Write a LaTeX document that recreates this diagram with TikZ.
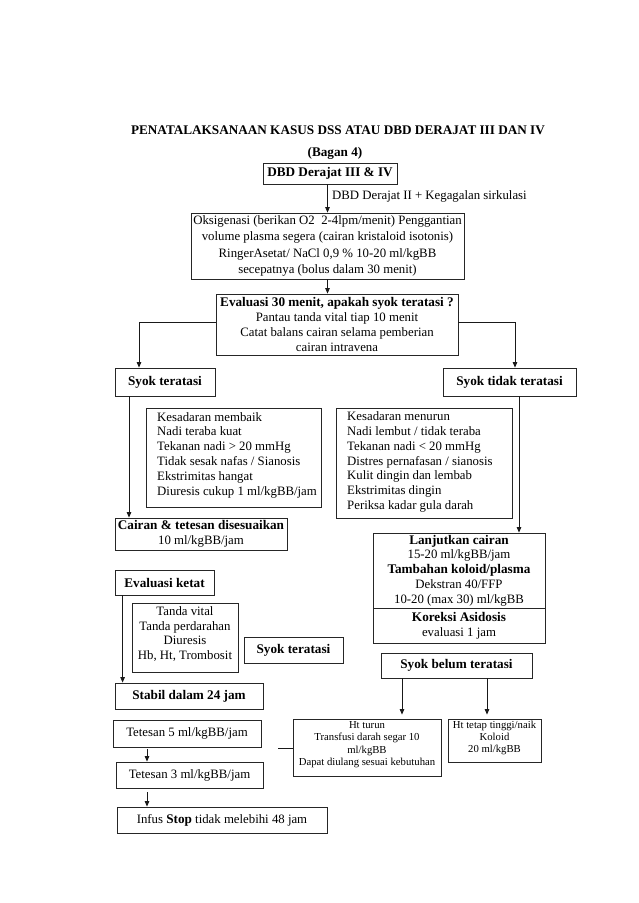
\documentclass[tikz,border=0pt]{standalone}
\usepackage{fontspec}
\setmainfont{Liberation Serif}
\usetikzlibrary{arrows.meta,calc}
\newcommand{\fsmain}{\fontsize{12.8}{14.8}\selectfont}
\newcommand{\fssmall}{\fontsize{10.7}{12.3}\selectfont}
\newcommand{\bx}[1]{{\fontsize{13.2}{14.8}\selectfont\bfseries #1}}
\tikzset{
  box/.style={draw=black!85, line width=0.8pt, inner sep=0pt, align=center, font=\fsmain},
  arr/.style={draw=black!90, line width=0.8pt, -{Triangle[length=5.5pt,width=4.5pt]}},
  ln/.style={draw=black!90, line width=0.8pt},
  txt/.style={inner sep=0pt, font=\fsmain}
}
\begin{document}
\begin{tikzpicture}[x=1pt,y=-1pt]
\useasboundingbox (0,0) rectangle (638,903);
\node[txt] (title) at (338,130) {\bx{PENATALAKSANAAN KASUS DSS ATAU DBD DERAJAT III DAN IV}};
\node[txt] (bagan) at (335,153) {\bx{(Bagan 4)}};
\node[box, minimum width=134pt, minimum height=21pt] (dbd) at (330,173.5) {\bx{DBD Derajat III \& IV}};
\node[txt, anchor=west] (lbl) at (332,196) {DBD Derajat II + Kegagalan sirkulasi};
\node[box, font=\fontsize{12.8}{16.2}\selectfont, minimum width=273pt, minimum height=66pt] (oks) at (327.5,246)
  {Oksigenasi (berikan O2~~2-4lpm/menit) Penggantian\\volume plasma segera (cairan kristaloid isotonis)\\RingerAsetat/ NaCl 0,9 \% 10-20 ml/kgBB\\secepatnya (bolus dalam 30 menit)};
\node[box, minimum width=242pt, minimum height=61pt] (eval) at (337,324.5)
  {\bx{Evaluasi 30 menit, apakah syok teratasi ?}\\Pantau tanda vital tiap 10 menit\\Catat balans cairan selama pemberian\\cairan intravena};
\node[box, minimum width=100pt, minimum height=28pt] (syok1) at (165,382) {\bx{Syok teratasi}};
\node[box, minimum width=133pt, minimum height=28pt] (syok2) at (509.5,382) {\bx{Syok tidak teratasi}};
\node[box, minimum width=175pt, minimum height=99pt] (memb) at (233.5,457.5) {};
\node[txt, anchor=west, align=left] (membtxt) at (157,455) 
  {Kesadaran membaik\\Nadi teraba kuat\\Tekanan nadi > 20 mmHg\\Tidak sesak nafas / Sianosis\\Ekstrimitas hangat\\Diuresis cukup 1 ml/kgBB/jam};
\node[box, minimum width=176pt, minimum height=110pt] (menu) at (424,463) {};
\node[txt, anchor=west, align=left] (menutxt) at (347,462)
  {Kesadaran menurun\\Nadi lembut / tidak teraba\\Tekanan nadi < 20 mmHg\\Distres pernafasan / sianosis\\Kulit dingin dan lembab\\Ekstrimitas dingin\\Periksa kadar gula darah};
\node[box, minimum width=172pt, minimum height=32pt] (cairan) at (201,534)
  {\bx{Cairan \& tetesan disesuaikan}\\10 ml/kgBB/jam};
\node[box, minimum width=172pt, minimum height=75pt] (lanjA) at (459,570.5)
  {\bx{Lanjutkan cairan}\\15-20 ml/kgBB/jam\\\bx{Tambahan koloid/plasma}\\Dekstran 40/FFP\\10-20 (max 30) ml/kgBB};
\node[box, minimum width=172pt, minimum height=35pt] (lanjB) at (459,625.5)
  {\bx{Koreksi Asidosis}\\evaluasi 1 jam};
\node[box, minimum width=99pt, minimum height=25pt] (evk) at (164.5,582.5) {\bx{Evaluasi ketat}};
\node[box, minimum width=106pt, minimum height=69pt] (tanda) at (185,637.5) {};
\node[txt, align=center] (tandatxt) at (185,634) {Tanda vital\\Tanda perdarahan\\Diuresis\\Hb, Ht, Trombosit};
\node[box, minimum width=99pt, minimum height=26pt] (syok3) at (293.5,650) {\bx{Syok teratasi}};
\node[box, minimum width=151pt, minimum height=25pt] (belum) at (456.5,665.5) {\bx{Syok belum teratasi}};
\node[box, minimum width=148pt, minimum height=26pt] (stabil) at (189,696) {\bx{Stabil dalam 24 jam}};
\node[box, minimum width=148pt, minimum height=27pt] (tet5) at (187,733.5) {Tetesan 5 ml/kgBB/jam};
\node[box, minimum width=147pt, minimum height=26pt] (tet3) at (189.5,775) {Tetesan 3 ml/kgBB/jam};
\node[box, minimum width=210pt, minimum height=26pt] (infus) at (222,820) {Infus \bx{Stop} tidak melebihi 48 jam};
\node[box, minimum width=148pt, minimum height=57pt] (htt) at (367,747.5) {};
\node[txt, font=\fssmall, align=center] (htttxt) at (367,744.5) {Ht turun\\Transfusi darah segar 10\\ml/kgBB\\Dapat diulang sesuai kebutuhan};
\node[box, minimum width=93pt, minimum height=43pt] (htk) at (494.5,740.5) {};
\node[txt, font=\fssmall, align=center] (htktxt) at (494.5,738) {Ht tetap tinggi/naik\\Koloid\\20 ml/kgBB};
% connectors
\draw[arr] (dbd.south -| oks.north) -- (oks.north);
\draw[arr] (oks.south) -- (oks.south |- eval.north);
\coordinate (jl) at (139,322);
\coordinate (jr) at (515,322);
\draw[arr] (eval.west |- jl) -- (jl) -- (jl |- syok1.north);
\draw[arr] (eval.east |- jr) -- (jr) -- (jr |- syok2.north);
\draw[arr] ([xshift=-36pt]syok1.south) -- ([xshift=-36pt]syok1.south |- cairan.north);
\draw[arr] ([xshift=9.5pt]syok2.south) -- ([xshift=9.5pt]syok2.south |- lanjA.north);
\draw[arr] ([xshift=8pt]evk.south west) -- ([xshift=8pt]evk.south west |- stabil.north);
\draw[arr, shorten >=4pt] ([xshift=-54.5pt]belum.south) -- ([xshift=-54.5pt]belum.south |- htt.north);
\draw[arr, shorten >=4pt] ([xshift=30.5pt]belum.south) -- ([xshift=30.5pt]belum.south |- htk.north);
\draw[arr, shorten <=2pt] ([xshift=-40pt]tet5.south) -- ([xshift=-40pt]tet5.south |- tet3.north);
\draw[arr, shorten <=4pt] ([xshift=-42.5pt]tet3.south) -- ([xshift=-42.5pt]tet3.south |- infus.north);
\coordinate (st) at (278,748);
\draw[ln] (st) -- (st -| htt.west);
\end{tikzpicture}
\end{document}
